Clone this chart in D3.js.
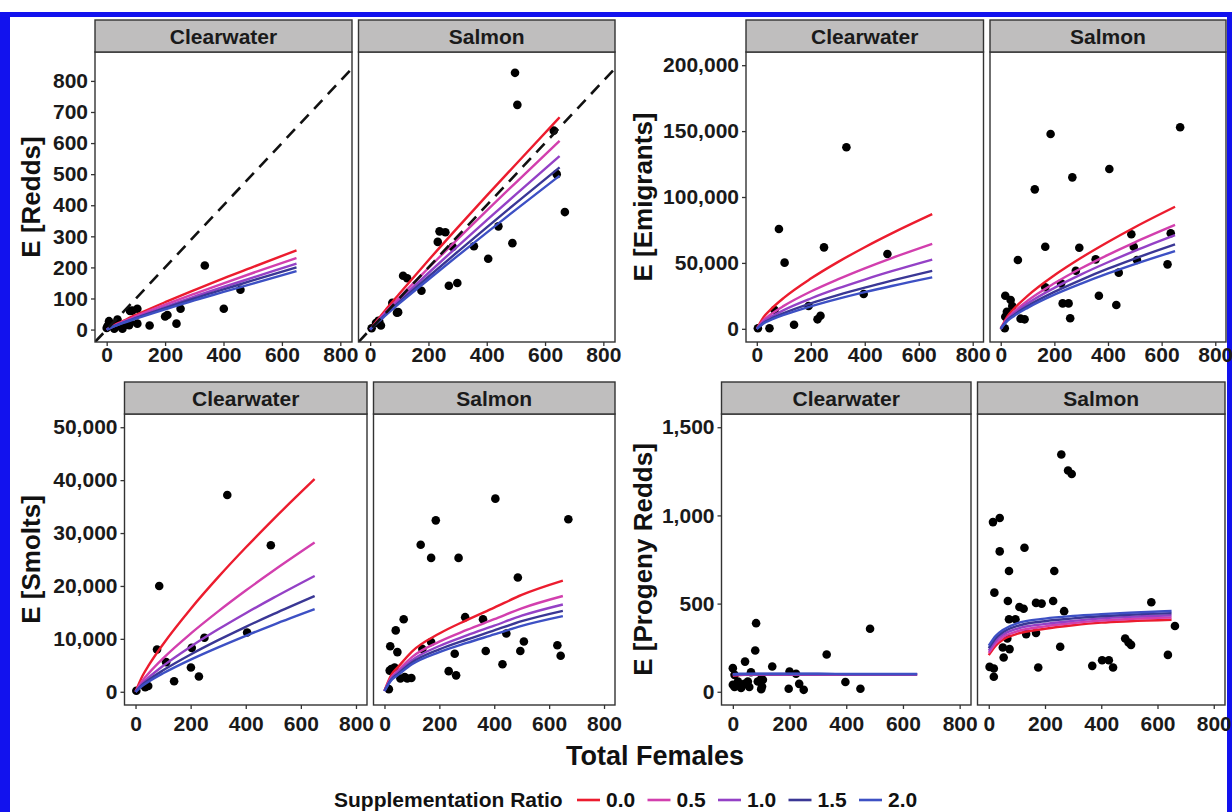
<!DOCTYPE html>
<html>
<head>
<meta charset="utf-8">
<script src="https://d3js.org/d3.v7.min.js"></script>
<style>
  body { margin: 0; background: #fff; }
  svg { display: block; font-family: "Liberation Sans", Arial, sans-serif; font-weight: bold; }
</style>
</head>
<body>
<svg id="chart" width="1232" height="812"></svg>
<script>
// ---------------- data ----------------
const rivers = ['Clearwater', 'Salmon'];
const ratioLabels = ['0.0', '0.5', '1.0', '1.5', '2.0'];
const xTicks = [0, 200, 400, 600, 800];
const reddsTicks = [0, 100, 200, 300, 400, 500, 600, 700, 800];
const emigrantTicks = [0, 50000, 100000, 150000, 200000];
const smoltTicks = [0, 10000, 20000, 30000, 40000, 50000];
const progenyTicks = [0, 500, 1000, 1500];

// x positions where the fitted curves were read
const lineX = [0, 25, 50, 100, 200, 300, 400, 500, 650];

// fitted curves, one row per supplementation ratio (0.0 ... 2.0)
const reddsCwLines = [
  [0, 14, 25, 47, 88, 127, 165, 201, 255],
  [0, 12, 23, 43, 80, 115, 149, 182, 230],
  [0, 11, 21, 39, 73, 106, 137, 167, 212],
  [0, 11, 20, 37, 69, 100, 129, 158, 200],
  [0, 10, 19, 35, 65, 94, 121, 148, 188]
];
const reddsSaLines = [
  [0, 31, 60, 115, 223, 328, 431, 532, 683],
  [0, 27, 53, 103, 198, 291, 383, 473, 607],
  [0, 25, 49, 94, 182, 268, 352, 435, 558],
  [0, 24, 46, 88, 170, 250, 329, 407, 522],
  [0, 22, 43, 84, 161, 237, 312, 386, 495]
];
const emigCwLines = [
  [0, 8900, 14400, 23500, 38100, 50600, 61900, 72400, 87000],
  [0, 6600, 10700, 17400, 28300, 37500, 45900, 53700, 64500],
  [0, 5400, 8700, 14200, 23000, 30600, 37400, 43700, 52500],
  [0, 4500, 7300, 11900, 19300, 25600, 31300, 36600, 44000],
  [0, 4000, 6500, 10500, 17100, 22700, 27800, 32500, 39000]
];
const emigSaLines = [
  [0, 9500, 15400, 25000, 40600, 53900, 65900, 77100, 92600],
  [0, 8050, 13100, 21300, 34500, 45900, 56100, 65600, 78800],
  [0, 7260, 11800, 19200, 31100, 41300, 50500, 59100, 71000],
  [0, 6540, 10600, 17300, 28000, 37200, 45600, 53300, 64000],
  [0, 6030, 9800, 15900, 25900, 34300, 42000, 49100, 59000]
];
const smoltCwLines = [
  [0, 2970, 5170, 8990, 15660, 21660, 27260, 32590, 40200],
  [0, 2080, 3620, 6310, 10980, 15190, 19130, 22860, 28200],
  [0, 1620, 2810, 4900, 8530, 11800, 14850, 17750, 21900],
  [0, 1340, 2330, 4050, 7050, 9750, 12280, 14670, 18100],
  [0, 1150, 2000, 3490, 6080, 8400, 10580, 12650, 15600]
];
const smoltSaLines = [
  [200, 3200, 4700, 7600, 11000, 13550, 15900, 18300, 21000],
  [170, 2760, 4050, 6550, 9480, 11680, 13710, 15770, 18100],
  [160, 2520, 3690, 5970, 8650, 10650, 12500, 14380, 16500],
  [150, 2330, 3430, 5540, 8020, 9880, 11590, 13340, 15300],
  [140, 2180, 3200, 5180, 7490, 9230, 10830, 12460, 14300]
];
const progCwLines = [
  [92, 95, 96, 97, 97, 97, 97, 97, 97],
  [94, 96, 97, 98, 98, 98, 98, 98, 98],
  [96, 98, 99, 99, 99, 99, 99, 99, 99],
  [98, 100, 100, 101, 101, 101, 100, 100, 100],
  [100, 102, 102, 102, 102, 102, 101, 101, 101]
];
const progSaLines = [
  [208, 262, 295, 328, 357, 377, 392, 400, 408],
  [220, 276, 309, 342, 371, 390, 404, 413, 421],
  [233, 290, 323, 357, 385, 402, 416, 425, 434],
  [247, 304, 337, 372, 400, 416, 428, 437, 446],
  [262, 318, 350, 388, 415, 430, 440, 448, 458]
];

// observed points [total females, value]
const reddsCwPts = [[336,206],[458,128],[401,67],[253,67],[200,42],[208,47],[239,19],[147,13],[88,61],[105,67],[80,60],[105,19],[77,14],[54,3],[26,3],[3,11],[8,27],[37,32],[18,17],[0,5],[65,16],[80,22],[43,12]];
const reddsSaPts = [[497,826],[505,723],[488,278],[405,228],[440,332],[356,268],[283,266],[238,316],[258,313],[232,282],[270,141],[299,150],[113,173],[127,165],[176,125],[96,56],[77,78],[76,86],[37,13],[20,21],[5,4],[28,28],[630,640],[640,500],[668,378],[92,54],[31,27]];
const emigCwPts = [[332,137700],[82,75700],[103,50200],[249,61800],[484,56800],[396,26400],[236,9900],[225,7200],[138,3100],[47,400],[4,400],[192,17300],[66,14300]];
const emigSaPts = [[186,147800],[405,121200],[267,114900],[127,105800],[166,62300],[293,61500],[64,52200],[354,52700],[280,44100],[440,42600],[166,31500],[225,34500],[366,25100],[231,19300],[253,19300],[431,18100],[259,8000],[17,25100],[37,21900],[43,17300],[23,13000],[17,9200],[89,7200],[74,7700],[15,400],[487,71700],[669,152900],[634,72500],[622,48900],[496,62300],[508,52200]];
const smoltCwPts = [[333,37200],[491,27700],[86,20000],[78,8000],[111,5600],[204,8300],[250,10200],[405,11200],[201,4600],[230,2900],[140,2000],[46,1100],[35,850],[3,200]];
const smoltSaPts = [[404,36500],[187,32400],[132,27800],[170,25300],[270,25300],[486,21600],[70,13700],[41,11600],[294,14100],[359,13700],[444,11000],[170,9400],[138,8100],[21,8600],[47,7500],[256,7200],[369,7700],[495,7700],[430,5200],[234,3900],[261,3100],[25,4300],[37,4600],[19,4000],[58,2500],[74,2800],[98,2600],[83,2500],[16,500],[670,32600],[630,8800],[642,6800],[508,9500]];
const progCwPts = [[82,389],[484,357],[79,234],[331,211],[43,171],[139,143],[0,134],[64,111],[200,115],[223,102],[6,96],[397,55],[234,45],[100,74],[106,68],[88,58],[53,58],[41,45],[58,27],[29,21],[0,40],[6,27],[18,58],[103,30],[100,15],[197,17],[250,11],[450,17]];
const progSaPts = [[258,1345],[282,1255],[295,1235],[15,962],[39,985],[39,796],[127,817],[72,685],[233,685],[20,562],[68,515],[229,515],[168,504],[188,500],[109,481],[124,471],[268,457],[72,411],[95,411],[133,327],[168,334],[66,302],[50,251],[74,242],[53,194],[254,255],[3,141],[18,132],[18,85],[176,138],[368,147],[403,179],[427,179],[442,138],[485,302],[497,279],[506,266],[578,508],[637,209],[662,373]];

// ---------------- layout ----------------
const colors = ['#ec1c2e', '#d23fae', '#9441c6', '#3a3795', '#3d50c4'];
const quads = [
  { title: 'E [Redds]', ticks: reddsTicks, yDom: [-40, 893], top: 52, bottom: 342, cols: [[95, 352], [358.5, 615]],
    titleX: 31, lines: [reddsCwLines, reddsSaLines], pts: [reddsCwPts, reddsSaPts], diag: true, labDy: 20 },
  { title: 'E [Emigrants]', ticks: emigrantTicks, yDom: [-10000, 210000], top: 52, bottom: 342, cols: [[746, 983.5], [990, 1226]],
    titleX: 643, lines: [emigCwLines, emigSaLines], pts: [emigCwPts, emigSaPts], labDy: 20 },
  { title: 'E [Smolts]', ticks: smoltTicks, yDom: [-2500, 52500], top: 414, bottom: 705, cols: [[124.5, 367], [373.5, 615]],
    titleX: 31, lines: [smoltCwLines, smoltSaLines], pts: [smoltCwPts, smoltSaPts], labDy: 26 },
  { title: 'E [Progeny Redds]', ticks: progenyTicks, yDom: [-75, 1575], top: 414, bottom: 705, cols: [[721.5, 971], [977.5, 1225]],
    titleX: 643, lines: [progCwLines, progSaLines], pts: [progCwPts, progSaPts], labDy: 26 }
];
const stripH = 32;

const svg = d3.select('#chart');

// blue frame of the figure
svg.append('rect').attr('x', 0).attr('y', 12).attr('width', 1232).attr('height', 5).attr('fill', '#1212ee');
svg.append('rect').attr('x', 0).attr('y', 12).attr('width', 10).attr('height', 800).attr('fill', '#1212ee');
svg.append('rect').attr('x', 1227).attr('y', 12).attr('width', 5).attr('height', 800).attr('fill', '#1212ee');

const fmt = d3.format(',');

quads.forEach((q, qi) => {
  const y = d3.scaleLinear().domain(q.yDom).range([q.bottom, q.top]);

  q.cols.forEach((c, ci) => {
    const x = d3.scaleLinear().domain([-40, 840]).range(c);
    const g = svg.append('g');
    const clipId = 'clip' + qi + '_' + ci;
    g.append('clipPath').attr('id', clipId)
      .append('rect').attr('x', c[0]).attr('y', q.top).attr('width', c[1] - c[0]).attr('height', q.bottom - q.top);

    const plot = g.append('g').attr('clip-path', `url(#${clipId})`);

    // observations
    plot.selectAll('circle')
      .data(q.pts[ci])
      .join('circle')
      .attr('cx', d => x(d[0]))
      .attr('cy', d => y(d[1]))
      .attr('r', 4.3)
      .attr('fill', '#000');

    // fitted curves
    const line = d3.line()
      .x((d, i) => x(lineX[i]))
      .y(d => y(d))
      .curve(d3.curveMonotoneX);
    plot.selectAll('path.fit')
      .data(q.lines[ci])
      .join('path')
      .attr('class', 'fit')
      .attr('d', line)
      .attr('fill', 'none')
      .attr('stroke', (d, i) => colors[i])
      .attr('stroke-width', 2.4);

    // 1:1 line
    if (q.diag) {
      plot.append('line')
        .attr('x1', x(-40)).attr('y1', y(-40))
        .attr('x2', x(900)).attr('y2', y(900))
        .attr('stroke', '#111').attr('stroke-width', 2.6)
        .attr('stroke-dasharray', '12,8');
    }

    // panel border
    g.append('rect')
      .attr('x', c[0]).attr('y', q.top).attr('width', c[1] - c[0]).attr('height', q.bottom - q.top)
      .attr('fill', 'none').attr('stroke', '#333').attr('stroke-width', 1.4);

    // strip
    g.append('rect')
      .attr('x', c[0]).attr('y', q.top - stripH).attr('width', c[1] - c[0]).attr('height', stripH)
      .attr('fill', '#bfbebe').attr('stroke', '#333').attr('stroke-width', 1.4);
    g.append('text')
      .attr('x', (c[0] + c[1]) / 2).attr('y', q.top - stripH / 2)
      .attr('dy', '0.36em')
      .attr('text-anchor', 'middle')
      .attr('font-size', 21)
      .attr('fill', '#1a1a1a')
      .text(rivers[ci]);

    // x axis
    const xa = g.append('g')
      .attr('transform', `translate(0,${q.bottom})`)
      .call(d3.axisBottom(x).tickValues(xTicks).tickSize(4).tickPadding(q.labDy - 19).tickSizeOuter(0));
    xa.select('.domain').remove();
    xa.selectAll('line').attr('stroke', '#333').attr('stroke-width', 1.3);
    xa.selectAll('text').attr('font-size', 21).attr('font-family', null).attr('fill', '#1a1a1a');

    // y axis on first panel of each block
    if (ci === 0) {
      const ya = g.append('g')
        .attr('transform', `translate(${c[0]},0)`)
        .call(d3.axisLeft(y).tickValues(q.ticks).tickFormat(fmt).tickSize(4).tickPadding(3));
      ya.select('.domain').remove();
      ya.selectAll('line').attr('stroke', '#333').attr('stroke-width', 1.3);
      ya.selectAll('text').attr('font-size', 21).attr('font-family', null).attr('fill', '#1a1a1a');
    }
  });

  // y title
  svg.append('text')
    .attr('transform', `translate(${q.titleX},${(q.top + q.bottom) / 2}) rotate(-90)`)
    .attr('dy', '0.36em')
    .attr('text-anchor', 'middle')
    .attr('font-size', 26)
    .attr('fill', '#111')
    .text(q.title);
});

// x title
svg.append('text')
  .attr('x', 655).attr('y', 765)
  .attr('text-anchor', 'middle')
  .attr('font-size', 27)
  .attr('fill', '#111')
  .text('Total Females');

// legend
const legend = svg.append('g');
legend.append('text')
  .attr('x', 334).attr('y', 807)
  .attr('font-size', 21)
  .attr('fill', '#111')
  .text('Supplementation Ratio');
const keyX = d3.scalePoint().domain(ratioLabels).range([577, 859]);
ratioLabels.forEach((lab, i) => {
  legend.append('line')
    .attr('x1', keyX(lab)).attr('x2', keyX(lab) + 23)
    .attr('y1', 800).attr('y2', 800)
    .attr('stroke', colors[i]).attr('stroke-width', 2.6);
  legend.append('text')
    .attr('x', keyX(lab) + 29).attr('y', 807)
    .attr('font-size', 21)
    .attr('fill', '#111')
    .text(lab);
});
</script>
</body>
</html>
